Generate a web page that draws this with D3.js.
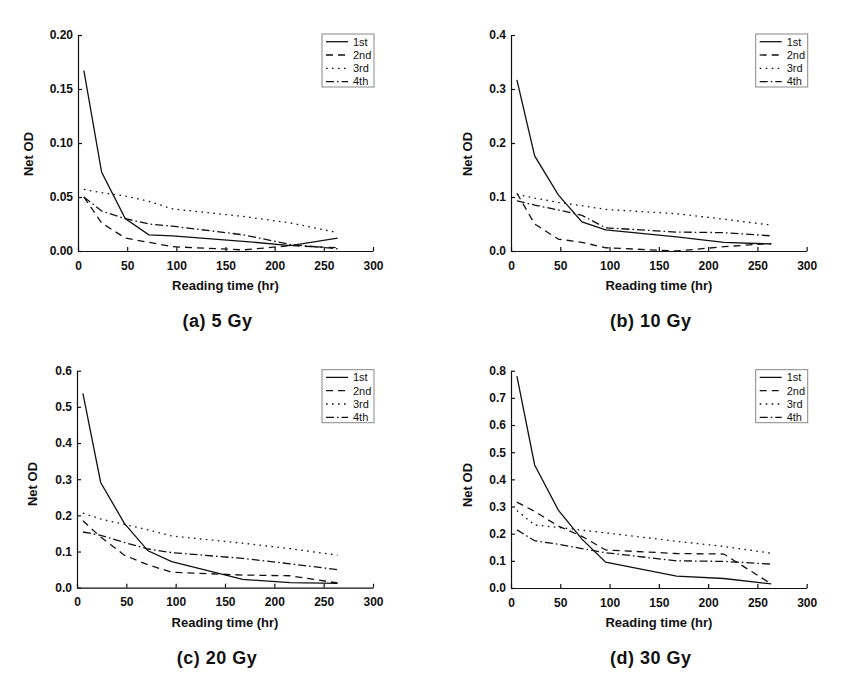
<!DOCTYPE html>
<html>
<head>
<meta charset="utf-8">
<script src="https://cdn.jsdelivr.net/npm/d3@7"></script>
<style>
  html, body { margin: 0; padding: 0; background: #fff; }
  svg { display: block; }
  text { font-family: Arial, "Liberation Sans", sans-serif; fill: #111; }
</style>
</head>
<body>
<svg id="chart" width="868" height="680"></svg>
<script>
// ---- data ----
const times = [6, 24, 48, 72, 96, 168, 216, 264];
const seriesNames = ["1st", "2nd", "3rd", "4th"];
const captions = ["(a) 5 Gy", "(b) 10 Gy", "(c) 20 Gy", "(d) 30 Gy"];
const xTicks = [0, 50, 100, 150, 200, 250, 300];
const yMaxes = [0.2, 0.4, 0.6, 0.8];
const yTicksA = [0, 0.05, 0.10, 0.15, 0.20];
const yTicksB = [0, 0.1, 0.2, 0.3, 0.4];
const yTicksC = [0, 0.1, 0.2, 0.3, 0.4, 0.5, 0.6];
const yTicksD = [0, 0.1, 0.2, 0.3, 0.4, 0.5, 0.6, 0.7, 0.8];

// panel (a) 5 Gy
const a1st = [0.167, 0.073, 0.030, 0.015, 0.014, 0.009, 0.005, 0.012];
const a2nd = [0.050, 0.026, 0.012, 0.008, 0.004, 0.001, 0.005, 0.003];
const a3rd = [0.057, 0.054, 0.051, 0.046, 0.039, 0.032, 0.026, 0.017];
const a4th = [0.050, 0.037, 0.030, 0.025, 0.023, 0.015, 0.006, 0.002];
// panel (b) 10 Gy
const b1st = [0.317, 0.176, 0.104, 0.054, 0.039, 0.026, 0.016, 0.013];
const b2nd = [0.107, 0.050, 0.022, 0.016, 0.006, 0.000, 0.008, 0.014];
const b3rd = [0.105, 0.098, 0.090, 0.084, 0.077, 0.069, 0.059, 0.048];
const b4th = [0.093, 0.085, 0.076, 0.066, 0.043, 0.035, 0.034, 0.028];
// panel (c) 20 Gy
const c1st = [0.537, 0.291, 0.178, 0.102, 0.072, 0.023, 0.014, 0.012];
const c2nd = [0.185, 0.140, 0.090, 0.063, 0.043, 0.035, 0.033, 0.013];
const c3rd = [0.206, 0.190, 0.175, 0.160, 0.143, 0.123, 0.108, 0.090];
const c4th = [0.154, 0.145, 0.125, 0.107, 0.097, 0.081, 0.066, 0.050];
// panel (d) 30 Gy
const d1st = [0.780, 0.453, 0.287, 0.180, 0.095, 0.044, 0.035, 0.015];
const d2nd = [0.316, 0.282, 0.228, 0.190, 0.140, 0.127, 0.125, 0.015];
const d3rd = [0.285, 0.232, 0.223, 0.213, 0.203, 0.172, 0.153, 0.128];
const d4th = [0.214, 0.174, 0.161, 0.145, 0.130, 0.100, 0.098, 0.088];

const panelSeries = [
  [a1st, a2nd, a3rd, a4th],
  [b1st, b2nd, b3rd, b4th],
  [c1st, c2nd, c3rd, c4th],
  [d1st, d2nd, d3rd, d4th]
];
const panelYTicks = [yTicksA, yTicksB, yTicksC, yTicksD];
const panelYFormat = [".2f", ".1f", ".1f", ".1f"];

// ---- layout (positions / styles) ----
const layout = [
  { left: 78,  right: 373,   top: 35,    bottom: 251,   yTitleDx: -50, yTitleCy: 154 },
  { left: 511, right: 806.7, top: 35,    bottom: 251,   yTitleDx: -44, yTitleCy: 154 },
  { left: 77,  right: 373,   top: 370.7, bottom: 587.7, yTitleDx: -44.5, yTitleCy: 484 },
  { left: 511, right: 806.7, top: 370.7, bottom: 588,   yTitleDx: -44, yTitleCy: 485 }
];
const dashes = [null, "7,5", "1.6,4.4", "8,3,1.6,3"];

const svg = d3.select("#chart");

panelSeries.forEach((series, p) => {
  const L = layout[p];
  const g = svg.append("g");
  const x = d3.scaleLinear().domain([0, 300]).range([L.left, L.right]);
  const y = d3.scaleLinear().domain([0, yMaxes[p]]).range([L.bottom, L.top]);

  // axes
  const xAxis = d3.axisBottom(x).tickValues(xTicks).tickFormat(d3.format("d"))
    .tickSizeInner(-4).tickSizeOuter(0).tickPadding(10);
  const yAxis = d3.axisLeft(y).tickValues(panelYTicks[p]).tickFormat(d3.format(panelYFormat[p]))
    .tickSizeInner(-4).tickSizeOuter(0).tickPadding(5);

  const gx = g.append("g").attr("transform", `translate(0,${L.bottom})`).call(xAxis);
  const gy = g.append("g").attr("transform", `translate(${L.left},0)`).call(yAxis);
  [gx, gy].forEach(ax => {
    ax.selectAll("path.domain").attr("stroke", "#111").attr("stroke-width", 1.2);
    ax.selectAll(".tick line").attr("stroke", "#111").attr("stroke-width", 1.2);
    ax.selectAll(".tick text").attr("font-size", 12).attr("font-weight", "bold")
      .attr("font-family", "Arial, 'Liberation Sans', sans-serif").attr("fill", "#111");
  });

  // axis titles
  const cx = (L.left + L.right) / 2;
  g.append("text").attr("x", cx).attr("y", L.bottom + 39)
    .attr("text-anchor", "middle").attr("font-size", 13).attr("font-weight", "bold")
    .text("Reading time (hr)");
  g.append("text")
    .attr("transform", `translate(${L.left + L.yTitleDx},${L.yTitleCy}) rotate(-90)`)
    .attr("text-anchor", "middle").attr("dy", "0.35em")
    .attr("font-size", 13).attr("font-weight", "bold")
    .text("Net OD");

  // caption
  g.append("text").attr("x", cx - 8).attr("y", L.bottom + 76)
    .attr("text-anchor", "middle").attr("font-size", 18).attr("font-weight", "bold")
    .attr("letter-spacing", 0.5)
    .text(captions[p]);

  // lines
  const line = d3.line().x((d, i) => x(times[i])).y(d => y(d));
  series.forEach((vals, s) => {
    g.append("path").datum(vals)
      .attr("d", line)
      .attr("fill", "none")
      .attr("stroke", "#111")
      .attr("stroke-width", 1.3)
      .attr("stroke-dasharray", dashes[s]);
  });

  // legend
  const lw = 52, lh = 53;
  const lx = L.right - lw + 1, ly = L.top - 1;
  const lg = g.append("g").attr("transform", `translate(${lx},${ly})`);
  lg.append("rect").attr("width", lw).attr("height", lh)
    .attr("fill", "#fff").attr("stroke", "#888").attr("stroke-width", 1);
  seriesNames.forEach((name, s) => {
    const ry = 7.7 + s * 13.3;
    lg.append("line").attr("x1", 4).attr("x2", 26).attr("y1", ry).attr("y2", ry)
      .attr("stroke", "#111").attr("stroke-width", 1.3)
      .attr("stroke-dasharray", dashes[s]);
    lg.append("text").attr("x", 31).attr("y", ry).attr("dy", "0.35em")
      .attr("font-size", 11).text(name);
  });
});
</script>
</body>
</html>
